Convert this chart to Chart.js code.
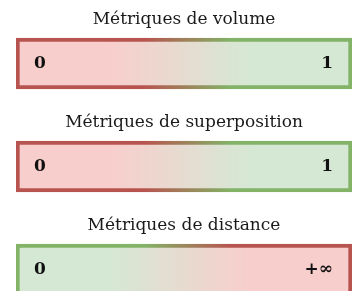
<!DOCTYPE html>
<html>
<head>
<meta charset="utf-8">
<script src="https://cdn.jsdelivr.net/npm/chart.js@4"></script>
<style>
  html, body { margin: 0; padding: 0; background: #fff; overflow: hidden; }
  #wrap { width: 355px; height: 330px; position: relative; }
</style>
</head>
<body>
<div id="wrap"><canvas id="scale-chart"></canvas></div>
<script>
// metric scales: title, low end, high end, and which end is good
const categories = ['Métriques de volume', 'Métriques de superposition', 'Métriques de distance'];
const lowLabels = ['0', '0', '0'];
const highLabels = ['1', '1', '+∞'];
const higherIsBetter = [true, true, false];
const ranges = [[0, 1], [0, 1], [0, 1]];

const RED_FILL = '#f8cecc', GREEN_FILL = '#d5e8d4';
const RED_LINE = '#b85450', GREEN_LINE = '#82b366';

function makeGradient(ctx, kind) {
  const chart = ctx.chart;
  if (!chart.chartArea) return kind === 'fill' ? RED_FILL : RED_LINE;
  const xs = chart.scales.x;
  const x0 = xs.getPixelForValue(0), x1 = xs.getPixelForValue(1);
  const g = chart.ctx.createLinearGradient(x0, 0, x1, 0);
  const good = higherIsBetter[ctx.dataIndex];
  const left = kind === 'fill' ? (good ? RED_FILL : GREEN_FILL) : (good ? RED_LINE : GREEN_LINE);
  const right = kind === 'fill' ? (good ? GREEN_FILL : RED_FILL) : (good ? GREEN_LINE : RED_LINE);
  const a = kind === 'fill' ? 0.28 : 0.38;
  const b = kind === 'fill' ? 0.70 : 0.64;
  g.addColorStop(0, left);
  g.addColorStop(a, left);
  g.addColorStop(b, right);
  g.addColorStop(1, right);
  return g;
}

const labelPlugin = {
  id: 'scaleLabels',
  afterDatasetsDraw(chart) {
    const c = chart.ctx;
    const bars = chart.getDatasetMeta(0).data;
    c.save();
    bars.forEach((bar, i) => {
      const left = Math.min(bar.x, bar.base), right = Math.max(bar.x, bar.base);
      const top = bar.y - bar.height / 2;
      c.fillStyle = '#1a1a1a';
      c.font = '17px "DejaVu Serif"';
      c.textAlign = 'center';
      c.textBaseline = 'middle';
      c.fillText(categories[i], (left + right) / 2, top - 18);
      c.fillStyle = '#111';
      c.font = 'bold 17px "DejaVu Serif"';
      c.textAlign = 'left';
      c.fillText(lowLabels[i], left + 18, bar.y);
      c.textAlign = 'right';
      c.fillText(highLabels[i], right - 19, bar.y);
    });
    c.restore();
  }
};

new Chart(document.getElementById('scale-chart'), {
  type: 'bar',
  data: {
    labels: categories,
    datasets: [{
      data: ranges,
      backgroundColor: ctx => makeGradient(ctx, 'fill'),
      borderColor: ctx => makeGradient(ctx, 'line'),
      borderWidth: 4,
      borderSkipped: false,
      barThickness: 51,
    }],
  },
  options: {
    indexAxis: 'y',
    responsive: true,
    maintainAspectRatio: false,
    animation: false,
    layout: { padding: { left: 16, right: 3, top: 12, bottom: 9 } },
    plugins: { legend: { display: false }, tooltip: { enabled: false } },
    scales: {
      x: { min: 0, max: 1, display: false },
      y: { display: false, offset: true },
    },
  },
  plugins: [labelPlugin],
});
</script>
</body>
</html>
